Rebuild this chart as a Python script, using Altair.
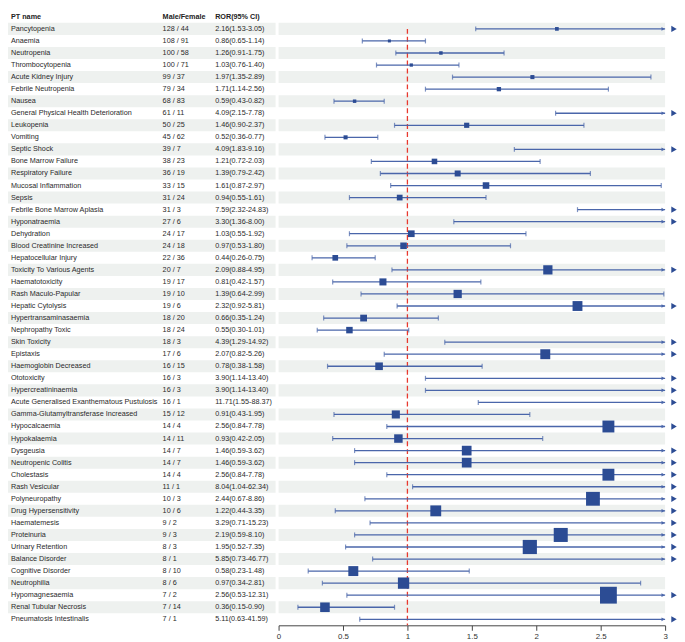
import altair as alt
import pandas as pd

names = ["Pancytopenia", "Anaemia", "Neutropenia", "Thrombocytopenia", "Acute Kidney Injury",
         "Febrile Neutropenia", "Nausea", "General Physical Health Deterioration", "Leukopenia",
         "Vomiting", "Septic Shock", "Bone Marrow Failure", "Respiratory Failure",
         "Mucosal Inflammation", "Sepsis", "Febrile Bone Marrow Aplasia", "Hyponatraemia",
         "Dehydration", "Blood Creatinine Increased", "Hepatocellular Injury",
         "Toxicity To Various Agents", "Haematotoxicity", "Rash Maculo-Papular",
         "Hepatic Cytolysis", "Hypertransaminasaemia", "Nephropathy Toxic", "Skin Toxicity",
         "Epistaxis", "Haemoglobin Decreased", "Ototoxicity", "Hypercreatininaemia",
         "Acute Generalised Exanthematous Pustulosis", "Gamma-Glutamyltransferase Increased",
         "Hypocalcaemia", "Hypokalaemia", "Dysgeusia", "Neutropenic Colitis", "Cholestasis",
         "Rash Vesicular", "Polyneuropathy", "Drug Hypersensitivity", "Haematemesis",
         "Proteinuria", "Urinary Retention", "Balance Disorder", "Cognitive Disorder",
         "Neutrophilia", "Hypomagnesaemia", "Renal Tubular Necrosis", "Pneumatosis Intestinalis"]
male = [128, 108, 100, 100, 99, 79, 68, 61, 50, 45, 39, 38, 36, 33, 31, 31, 27, 24, 24, 22,
        20, 19, 19, 19, 18, 18, 18, 17, 16, 16, 16, 16, 15, 14, 14, 14, 14, 14, 11, 10, 10, 9,
        9, 8, 8, 8, 8, 7, 7, 7]
female = [44, 91, 58, 71, 37, 34, 83, 11, 25, 62, 7, 23, 19, 15, 24, 3, 6, 17, 18, 36,
          7, 17, 10, 6, 20, 24, 3, 6, 15, 3, 3, 1, 12, 4, 11, 7, 7, 4, 1, 3, 6, 2,
          3, 3, 1, 10, 6, 2, 14, 1]
ror = [2.16, 0.86, 1.26, 1.03, 1.97, 1.71, 0.59, 4.09, 1.46, 0.52, 4.09, 1.21, 1.39, 1.61,
       0.94, 7.59, 3.30, 1.03, 0.97, 0.44, 2.09, 0.81, 1.39, 2.32, 0.66, 0.55, 4.39, 2.07,
       0.78, 3.90, 3.90, 11.71, 0.91, 2.56, 0.93, 1.46, 1.46, 2.56, 8.04, 2.44, 1.22, 3.29,
       2.19, 1.95, 5.85, 0.58, 0.97, 2.56, 0.36, 5.11]
lower = [1.53, 0.65, 0.91, 0.76, 1.35, 1.14, 0.43, 2.15, 0.90, 0.36, 1.83, 0.72, 0.79, 0.87,
         0.55, 2.32, 1.36, 0.55, 0.53, 0.26, 0.88, 0.42, 0.64, 0.92, 0.35, 0.30, 1.29, 0.82,
         0.38, 1.14, 1.14, 1.55, 0.43, 0.84, 0.42, 0.59, 0.59, 0.84, 1.04, 0.67, 0.44, 0.71,
         0.59, 0.52, 0.73, 0.23, 0.34, 0.53, 0.15, 0.63]
upper = [3.05, 1.14, 1.75, 1.40, 2.89, 2.56, 0.82, 7.78, 2.37, 0.77, 9.16, 2.03, 2.42, 2.97,
         1.61, 24.83, 8.00, 1.92, 1.80, 0.75, 4.95, 1.57, 2.99, 5.81, 1.24, 1.01, 14.92, 5.26,
         1.58, 13.40, 13.40, 88.37, 1.95, 7.78, 2.05, 3.62, 3.62, 7.78, 62.34, 8.86, 3.35, 15.23,
         8.10, 7.35, 46.77, 1.48, 2.81, 12.31, 0.90, 41.59]
headers = ["PT name", "Male/Female", "ROR(95% CI)"]
x_ticks = [0, 0.5, 1, 1.5, 2, 2.5, 3]

df = pd.DataFrame({
    "idx": list(range(1, len(names) + 1)),
    "name": names,
    "mf": [f"{m} / {f}" for m, f in zip(male, female)],
    "rortxt": [f"{r:.2f}({l:.2f}-{u:.2f})" for r, l, u in zip(ror, lower, upper)],
    "ror": ror, "lower": lower, "upper": upper,
})
hdr = pd.DataFrame({"idx": [0], "h1": [headers[0]], "h2": [headers[1]], "h3": [headers[2]]})

FONT = "Liberation Sans"
BAND = "#eef1ef"
LINE = "#4a66aa"
SQ = "#2c4c94"
H = 620
W1 = 270
W2 = 390
XMAX = 3
FS = 7.3
C1, C2, C3 = 3, 156, 209

Y = alt.Y("idx:O", axis=None,
          scale=alt.Scale(domain=list(range(0, len(names) + 1)), paddingInner=0, paddingOuter=0))

# ---------- left table ----------
lbase = alt.Chart(df)
lbands = lbase.transform_filter("datum.idx % 2 == 1").mark_rect(color=BAND).encode(y=Y)
txt_kw = dict(align="left", baseline="middle", fontSize=FS, font=FONT, color="#2a2a2a")
t1 = lbase.mark_text(**txt_kw).encode(y=Y, x=alt.value(C1), text="name:N")
t2 = lbase.mark_text(**txt_kw).encode(y=Y, x=alt.value(C2), text="mf:N")
t3 = lbase.mark_text(**txt_kw).encode(y=Y, x=alt.value(C3), text="rortxt:N")
hk = dict(align="left", baseline="middle", fontSize=FS, font=FONT, fontWeight="bold", color="#222")
hb = alt.Chart(hdr)
h1 = hb.mark_text(**hk).encode(y=Y, x=alt.value(C1), text="h1:N")
h2 = hb.mark_text(**hk).encode(y=Y, x=alt.value(C2), text="h2:N")
h3 = hb.mark_text(**hk).encode(y=Y, x=alt.value(C3), text="h3:N")
left = alt.layer(lbands, t1, t2, t3, h1, h2, h3).properties(width=W1, height=H)

# ---------- right forest plot ----------
xscale = alt.Scale(domain=[0, XMAX], nice=False, zero=False)
xaxis = alt.Axis(values=x_ticks, title=None, grid=False, labelFontSize=8, labelFont=FONT,
                 labelColor="#333", tickColor="#444", domainColor="#444", tickSize=5,
                 labelFlush=False, format="~g")
rbase = alt.Chart(df).transform_calculate(
    up_c=f"min(datum.upper, {XMAX})",
    sz="pow(5.4 * log(datum.upper / datum.lower), 2)",
)
rbands = alt.Chart(df).transform_filter("datum.idx % 2 == 1").mark_rect(color=BAND).encode(y=Y)
ci = rbase.mark_rule(color=LINE, strokeWidth=1.3).encode(
    x=alt.X("lower:Q", scale=xscale, axis=xaxis), x2="up_c:Q", y=Y)
cap_lo = rbase.mark_tick(color=LINE, size=5, thickness=1.2, orient="vertical").encode(
    x=alt.X("lower:Q", scale=xscale), y=Y)
cap_hi = rbase.transform_filter(f"datum.upper <= {XMAX}").mark_tick(
    color=LINE, size=5, thickness=1.2, orient="vertical").encode(x=alt.X("upper:Q", scale=xscale), y=Y)
arrow = rbase.transform_filter(f"datum.upper > {XMAX}").mark_point(
    shape="triangle-right", filled=True, size=14, color=LINE, opacity=1, xOffset=-2).encode(
    x=alt.X("up_c:Q", scale=xscale), y=Y)
tri = rbase.transform_filter(f"datum.upper > {XMAX}").mark_point(
    shape="triangle-right", filled=True, size=40, color=SQ, opacity=1, xOffset=9).encode(
    x=alt.X("up_c:Q", scale=xscale), y=Y)
sq = rbase.transform_filter(f"datum.ror <= {XMAX}").mark_square(color=SQ, opacity=1).encode(
    x=alt.X("ror:Q", scale=xscale), y=Y, size=alt.Size("sz:Q", scale=None, legend=None))
ref = alt.Chart(pd.DataFrame({"v": [1], "idx": [1]})).mark_rule(
    color="#e8392f", strokeDash=[5, 3], strokeWidth=1.3).encode(
    x=alt.X("v:Q", scale=xscale), y=Y, y2=alt.value(H))
right = alt.layer(rbands, ref, ci, cap_lo, cap_hi, arrow, sq, tri).properties(width=W2, height=H)

chart = alt.hconcat(left, right, spacing=0).properties(padding=0).configure_view(stroke=None)
chart.save("out.html", embed_options={"renderer": "svg", "actions": False})
